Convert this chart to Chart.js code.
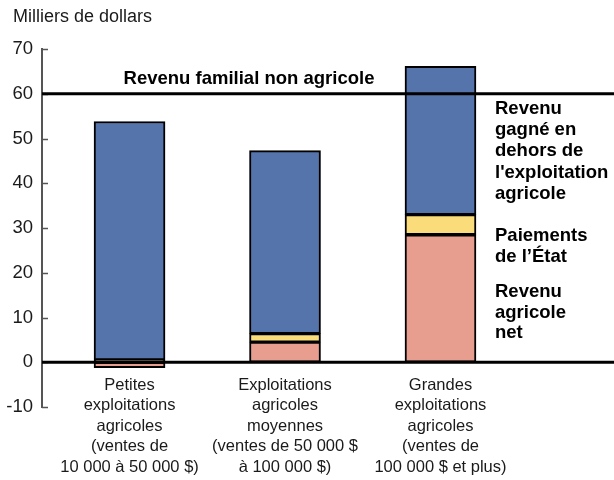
<!DOCTYPE html>
<html>
<head>
<meta charset="utf-8">
<script src="https://cdn.jsdelivr.net/npm/chart.js@4.4.1/dist/chart.umd.min.js"></script>
<style>
  html, body { margin: 0; padding: 0; background: #fff; }
  #wrap { position: relative; width: 614px; height: 480px; }
</style>
</head>
<body>
<div id="wrap"><canvas id="chart"></canvas></div>
<script>
// categories (multi-line labels under the zero line)
const categories = [
    ["Petites", "exploitations", "agricoles", "(ventes de", "10 000 à 50 000 $)"],
    ["Exploitations", "agricoles", "moyennes", "(ventes de 50 000 $", "à 100 000 $)"],
    ["Grandes", "exploitations", "agricoles", "(ventes de", "100 000 $ et plus)"],
];

// thousands of dollars
const netFarmIncome = [-1.2, 4.5, 28.5];
const govPayments = [0.5, 1.9, 4.5];
const offFarmIncome = [53.3, 40.9, 33.1];
const nonFarmFamilyIncome = 60;

const yTicks = [-10, 0, 10, 20, 30, 40, 50, 60, 70];

const seriesLabels = {
    offFarm: ["Revenu", "gagné en", "dehors de", "l'exploitation", "agricole"],
    gov: ["Paiements", "de l\u2019État"],
    net: ["Revenu", "agricole", "net"],
};

const FONT = "'Liberation Sans', Arial, sans-serif";

const toPoints = (arr) => arr.map((v, i) => ({ x: i, y: v }));

const overlay = {
    id: "overlay",
    afterDatasetsDraw(chart) {
        const { ctx, chartArea, scales } = chart;
        const x = scales.x;
        const y = scales.y;
        ctx.save();

        // inward tick marks on the y axis
        ctx.strokeStyle = "#555";
        ctx.lineWidth = 1.5;
        yTicks.forEach((t) => {
            const py = Math.round(y.getPixelForValue(t)) + 0.5;
            ctx.beginPath();
            ctx.moveTo(chartArea.left, py);
            ctx.lineTo(chartArea.left + 6, py);
            ctx.stroke();
        });

        // zero line and non-farm family income line
        ctx.strokeStyle = "#000";
        ctx.lineWidth = 3;
        [0, nonFarmFamilyIncome].forEach((v) => {
            const py = y.getPixelForValue(v);
            ctx.beginPath();
            ctx.moveTo(chartArea.left, py);
            ctx.lineTo(chartArea.right, py);
            ctx.stroke();
        });

        ctx.fillStyle = "#000";
        ctx.textBaseline = "middle";
        ctx.font = "bold 18.5px " + FONT;
        ctx.textAlign = "center";
        ctx.fillText("Revenu familial non agricole", 249, y.getPixelForValue(nonFarmFamilyIncome) - 15);

        // right side labels
        ctx.textAlign = "left";
        const rx = 495;
        seriesLabels.offFarm.forEach((s, i) => ctx.fillText(s, rx, 109 + i * 21.2));
        seriesLabels.gov.forEach((s, i) => ctx.fillText(s, rx, 236 + i * 20.5));
        seriesLabels.net.forEach((s, i) => ctx.fillText(s, rx, 292 + i * 20.5));

        // category labels
        ctx.font = "16.5px " + FONT;
        ctx.fillStyle = "#1a1a1a";
        ctx.textAlign = "center";
        categories.forEach((lines, i) => {
            const px = x.getPixelForValue(i);
            lines.forEach((s, j) => ctx.fillText(s, px, 385 + j * 20.6));
        });

        // axis title
        ctx.textAlign = "left";
        ctx.font = "18px " + FONT;
        ctx.fillText("Milliers de dollars", 13, 17);
        ctx.restore();
    },
};

const barStyle = {
    borderColor: "#000",
    borderWidth: 2,
    borderSkipped: false,
    barThickness: 71,
};

new Chart(document.getElementById("chart"), {
    type: "bar",
    data: {
        datasets: [
            { label: "Revenu agricole net", data: toPoints(netFarmIncome), backgroundColor: "#E89E8E", ...barStyle },
            { label: "Paiements de l'État", data: toPoints(govPayments), backgroundColor: "#FADC7A", ...barStyle },
            { label: "Revenu gagné en dehors de l'exploitation agricole", data: toPoints(offFarmIncome), backgroundColor: "#5674AC", ...barStyle },
        ],
    },
    options: {
        responsive: true,
        maintainAspectRatio: false,
        animation: false,
        layout: { padding: { top: 49, bottom: 73, left: 0, right: 0 } },
        plugins: { legend: { display: false }, tooltip: { enabled: false } },
        scales: {
            x: {
                type: "linear",
                stacked: true,
                offset: false,
                min: -0.563,
                max: 3.116,
                display: false,
            },
            y: {
                stacked: true,
                min: -10,
                max: 70,
                afterFit: (scale) => { scale.width = 42; },
                afterBuildTicks: (scale) => { scale.ticks = yTicks.map((v) => ({ value: v })); },
                grid: { display: false, drawTicks: false },
                border: { display: true, color: "#555", width: 2 },
                ticks: {
                    padding: 9,
                    color: "#1a1a1a",
                    font: { family: FONT, size: 18.5 },
                },
            },
        },
    },
    plugins: [overlay],
});
</script>
</body>
</html>
